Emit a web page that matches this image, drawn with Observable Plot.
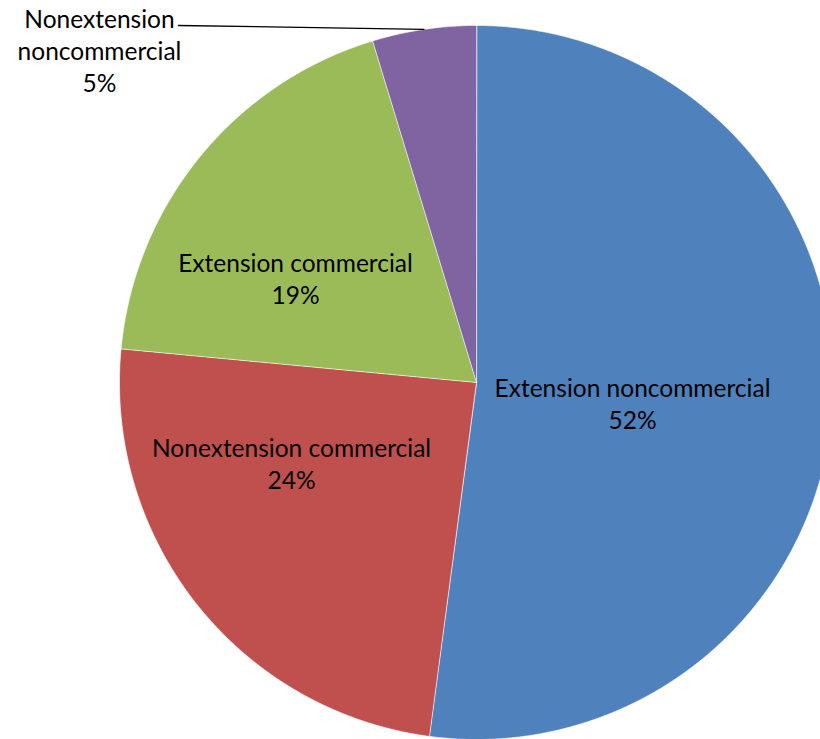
<!DOCTYPE html>
<html>
<head>
<meta charset="utf-8">
<script src="https://cdn.jsdelivr.net/npm/d3@7"></script>
<script src="https://cdn.jsdelivr.net/npm/@observablehq/plot@0.6"></script>
<style>
  html, body { margin: 0; padding: 0; background: #fff; overflow: hidden; }
  #chart svg { display: block; }
</style>
</head>
<body>
<div id="chart"></div>
<script>
// ---- data ----
const categories = ["Extension noncommercial", "Nonextension commercial", "Extension commercial", "Nonextension noncommercial"];
const shares = [52.1, 24.4, 18.8, 4.7];           // percent, clockwise from 12 o'clock
const labelTexts = ["Extension noncommercial\n52%", "Nonextension commercial\n24%", "Extension commercial\n19%", "Nonextension\nnoncommercial\n5%"];
const colors = ["#4F81BD", "#C0504D", "#9BBB59", "#8064A2"];

// ---- layout (pie in unit coordinates, radius = 1) ----
const W = 820, H = 739;
const xDomain = [-1.3333, 0.9636];
const yDomain = [-1.0, 1.07];
const labelPos = [[0.437, -0.057], [-0.518, -0.2255], [-0.507, 0.294], [-1.056, 0.933]];
const leaderStart = [-0.835, 1.0];

// build slice polygons from the shares
const total = d3.sum(shares);
const slices = [];
let acc = 0;
shares.forEach((s, i) => {
  const a0 = acc / total * 2 * Math.PI;
  acc += s;
  const a1 = acc / total * 2 * Math.PI;
  slices.push({name: categories[i], a0, a1});
});
const pts = [];
for (const sl of slices) {
  pts.push({name: sl.name, x: 0, y: 0});
  const n = Math.max(4, Math.ceil((sl.a1 - sl.a0) / (Math.PI / 360)));
  for (let k = 0; k <= n; k++) {
    const a = sl.a0 + (sl.a1 - sl.a0) * k / n;
    pts.push({name: sl.name, x: Math.sin(a), y: Math.cos(a)});
  }
}
const labels = categories.map((c, i) => ({name: c, text: labelTexts[i], x: labelPos[i][0], y: labelPos[i][1]}));
const purple = slices[3];
const midP = (purple.a0 + purple.a1) / 2;
const leader = [{x: leaderStart[0], y: leaderStart[1]}, {x: Math.sin(midP), y: Math.cos(midP)}];

const chart = Plot.plot({
  width: W, height: H,
  margin: 0,
  style: {fontFamily: "Lato, 'Open Sans', sans-serif", background: "#fff"},
  x: {domain: xDomain, axis: null},
  y: {domain: yDomain, axis: null},
  color: {domain: categories, range: colors},
  marks: [
    Plot.line(pts, {x: "x", y: "y", z: "name", fill: "name", stroke: "#fff", strokeWidth: 0.6, curve: "linear-closed", clip: true}),
    Plot.line(leader, {x: "x", y: "y", stroke: "#000", strokeWidth: 1.3}),
    Plot.text(labels, {x: "x", y: "y", text: "text", fontSize: 24.5, lineHeight: 1.306, fill: "#000", textAnchor: "middle"})
  ]
});
document.getElementById("chart").appendChild(chart);
</script>
</body>
</html>
